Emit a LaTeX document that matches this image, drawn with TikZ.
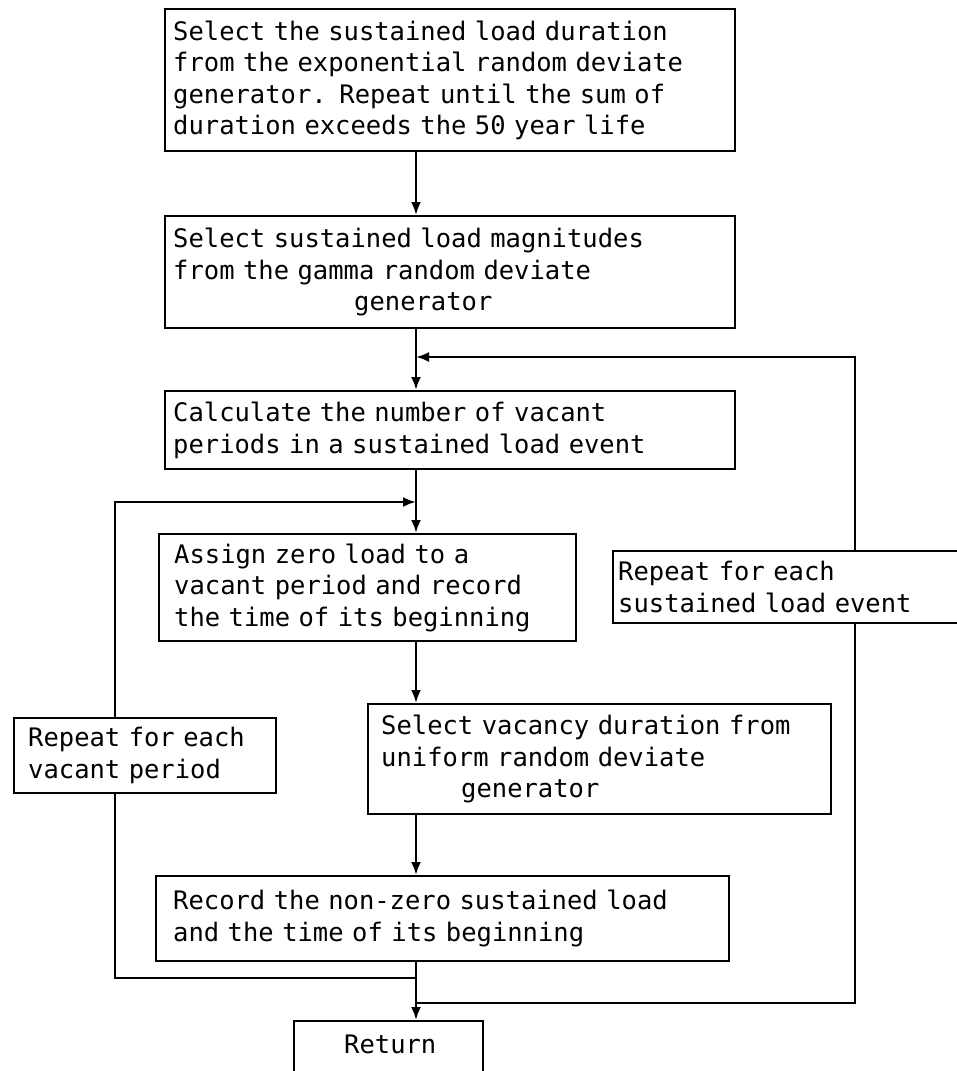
\documentclass[tikz,border=0pt]{standalone}
\usepackage{fontspec}
\setmonofont{DejaVu Sans Mono}
\usepackage{tikz}
\usetikzlibrary{arrows.meta}

\tikzset{
    flowbox/.style={draw, line width=2.4pt, anchor=north west, align=left,
        inner xsep=8pt, inner ysep=0pt,
        font=\ttfamily\fontsize{25.5}{31.5}\selectfont},
    flowline/.style={line width=2.4pt},
    flowarrow/.style={line width=2.4pt, -{Latex[length=13pt,width=10pt]}}
}

\begin{document}
\begin{tikzpicture}[x=1pt,y=-1pt]
        \def\xm{416}
        \def\xl{115}
        \def\xr{855}

        \useasboundingbox (0,0) rectangle (957,1071);

        \node[flowbox, text width=554pt, minimum height=142pt] (dur) at (164,8)
            {Select the sustained load duration\\from the exponential random deviate\\generator. Repeat until the sum of\\duration exceeds the 50 year life};
        \node[flowbox, text width=554pt, minimum height=112pt] (mag) at (164,215)
            {Select sustained load magnitudes\\from the gamma random deviate\\\hspace*{181pt}generator};
        \node[flowbox, text width=554pt, minimum height=78pt] (calc) at (164,390)
            {Calculate the number of vacant\\periods in a sustained load event};
        \node[flowbox, inner xsep=15pt, text width=387pt, minimum height=107pt] (zero) at (158,533)
            {Assign zero load to a\\vacant period and record\\the time of its beginning};
        \node[flowbox, inner xsep=13pt, text width=437pt, minimum height=110pt] (vac) at (367,703)
            {Select vacancy duration from\\uniform random deviate\\\hspace*{80pt}generator};
        \node[flowbox, inner xsep=17pt, text width=539pt, minimum height=85pt] (rec) at (155,875)
            {Record the non-zero sustained load\\and the time of its beginning};
        \node[flowbox, inner xsep=10pt, text width=169pt, inner ysep=6pt, text height=26pt, text depth=40pt] (ret) at (293,1020)
            {\hspace*{40pt}Return};

        \node[flowbox, inner xsep=14pt, text width=234pt, minimum height=75pt] (repv) at (13,717)
            {Repeat for each\\vacant period};
        \node[flowbox, inner xsep=5pt, text width=335pt, minimum height=72pt] (reps) at (612,550)
            {Repeat for each\\sustained load event};

        \coordinate (jtop) at (\xm,357);
        \coordinate (jleft) at (\xm,502);
        \coordinate (jlow) at (\xm,978);
        \coordinate (jret) at (\xm,1003);
        \coordinate (rtop) at (\xr,357);
        \coordinate (rbot) at (\xr,1003);
        \coordinate (ltop) at (\xl,502);
        \coordinate (lbot) at (\xl,978);

        % main chain
        \draw[flowarrow] (dur.south -| jtop) -- (mag.north -| jtop);
        \draw[flowarrow] (mag.south -| jtop) -- (calc.north -| jtop);
        \draw[flowarrow] (calc.south -| jtop) -- (zero.north -| jtop);
        \draw[flowarrow] (zero.south -| jtop) -- (vac.north -| jtop);
        \draw[flowarrow] (vac.south -| jtop) -- (rec.north -| jtop);
        \draw[flowarrow] (rec.south -| jtop) -- (ret.north -| jtop);

        % loops
        \draw[flowline] (jlow) -- (lbot) -- (repv.south -| lbot);
        \draw[flowarrow] (repv.north -| ltop) -- (ltop) -- (jleft);
        \draw[flowline] (jret) -- (rbot) -- (reps.south -| rbot);
        \draw[flowarrow] (reps.north -| rtop) -- (rtop) -- (jtop);
\end{tikzpicture}
\end{document}
